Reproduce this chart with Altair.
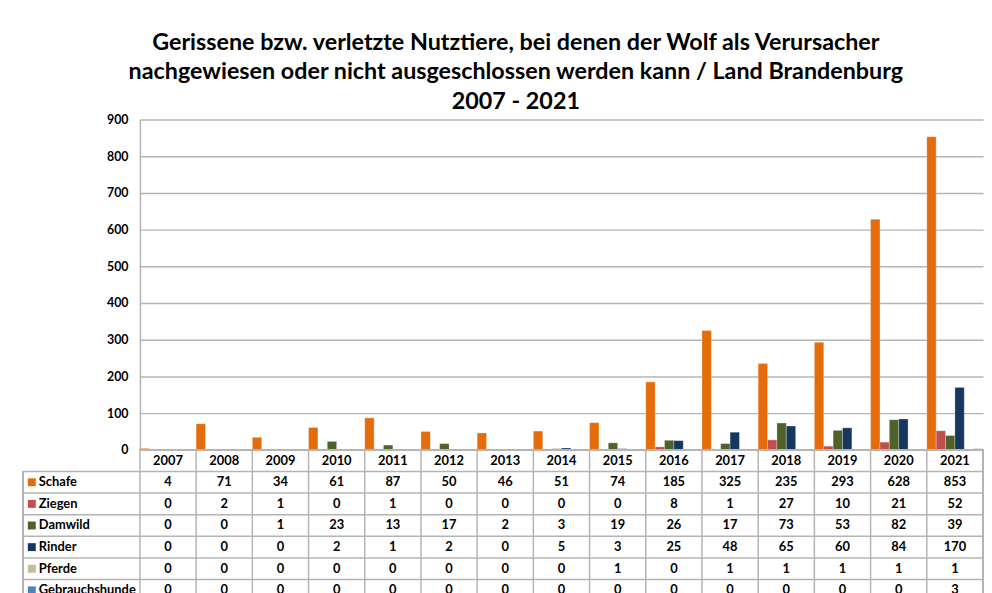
import altair as alt
import pandas as pd

years = [str(y) for y in range(2007, 2022)]
series = ["Schafe", "Ziegen", "Damwild", "Rinder", "Pferde", "Gebrauchshunde"]
schafe = [4, 71, 34, 61, 87, 50, 46, 51, 74, 185, 325, 235, 293, 628, 853]
ziegen = [0, 2, 1, 0, 1, 0, 0, 0, 0, 8, 1, 27, 10, 21, 52]
damwild = [0, 0, 1, 23, 13, 17, 2, 3, 19, 26, 17, 73, 53, 82, 39]
rinder = [0, 0, 0, 2, 1, 2, 0, 5, 3, 25, 48, 65, 60, 84, 170]
pferde = [0, 0, 0, 0, 0, 0, 0, 0, 1, 0, 1, 1, 1, 1, 1]
hunde = [0, 0, 0, 0, 0, 0, 0, 0, 0, 0, 0, 0, 0, 0, 3]
colors = ["#E46C0A", "#C0504D", "#4F6228", "#17375E", "#C4BD97", "#4F81BD"]
y_ticks = [0, 100, 200, 300, 400, 500, 600, 700, 800, 900]
title_lines = [
    "Gerissene bzw. verletzte Nutztiere, bei denen der Wolf als Verursacher",
    "nachgewiesen oder nicht ausgeschlossen werden kann / Land Brandenburg",
    "2007 - 2021",
]

values = [schafe, ziegen, damwild, rinder, pferde, hunde]
records = []
for s, vals in zip(series, values):
    for y, v in zip(years, vals):
        records.append({"year": y, "series": s, "value": v})
df = pd.DataFrame(records)

rows = ["Jahr"] + series
trecs = [{"year": y, "row": "Jahr", "label": y} for y in years]
trecs += [{"year": r["year"], "row": r["series"], "label": str(r["value"])} for r in records]
tdf = pd.DataFrame(trecs)
legdf = pd.DataFrame({"row": series, "series": series})
yeardf = pd.DataFrame({"year": years})

FONT = "Lato"
GRID = "#b4b4b4"
W = 850
H = 333
TH = 152.6
LEFT = -118

xscale = alt.Scale(domain=years, paddingInner=0, paddingOuter=0)
cscale = alt.Scale(domain=series, range=colors)

bars = alt.Chart(df).mark_bar(stroke="white", strokeWidth=0.4, strokeOpacity=0.7).encode(
    x=alt.X("year:N", scale=xscale, axis=None),
    xOffset=alt.XOffset("series:N", scale=alt.Scale(domain=series, paddingInner=0, paddingOuter=0)),
    y=alt.Y(
        "value:Q",
        scale=alt.Scale(domain=[0, 900], nice=False),
        axis=alt.Axis(
            values=y_ticks, grid=True, gridColor=GRID, gridWidth=1.5,
            domainColor=GRID, domainWidth=1.5, ticks=False, labelPadding=12,
            labelFont=FONT, labelFontWeight="bold", labelFontSize=12.5,
            labelColor="black", title=None,
        ),
    ),
    color=alt.Color("series:N", scale=cscale, legend=None),
).properties(width=W, height=H)

rowscale = alt.Scale(domain=rows, paddingInner=0, paddingOuter=0)

ttext = alt.Chart(tdf).mark_text(font=FONT, fontWeight="bold", fontSize=13, color="black").encode(
    x=alt.X("year:N", scale=xscale, axis=None),
    y=alt.Y("row:N", scale=rowscale, axis=None),
    text="label:N",
)

vlines = alt.Chart(yeardf).mark_rule(color=GRID, strokeWidth=1.5).encode(
    x=alt.X("year:N", scale=xscale, bandPosition=0, axis=None),
    y=alt.value(0),
    y2=alt.value(TH),
)
rline = alt.Chart(yeardf).mark_rule(color=GRID, strokeWidth=1.5).encode(
    x=alt.value(W), y=alt.value(0), y2=alt.value(TH)
)
hlines = alt.Chart(legdf).mark_rule(color=GRID, strokeWidth=1.5).encode(
    y=alt.Y("row:N", scale=rowscale, bandPosition=0, axis=None),
    x=alt.value(LEFT),
    x2=alt.value(W),
)
topline = alt.Chart(yeardf).mark_rule(color=GRID, strokeWidth=1.5).encode(
    y=alt.value(0), x=alt.value(0), x2=alt.value(W)
)
lline = alt.Chart(yeardf).mark_rule(color=GRID, strokeWidth=1.5).encode(
    x=alt.value(LEFT), y=alt.value(TH / 7), y2=alt.value(TH)
)
keys = alt.Chart(legdf).mark_square(size=64, opacity=1, filled=True).encode(
    x=alt.value(LEFT + 9),
    y=alt.Y("row:N", scale=rowscale, axis=None),
    color=alt.Color("series:N", scale=cscale, legend=None),
)
klabels = alt.Chart(legdf).mark_text(
    font=FONT, fontWeight="bold", fontSize=13, color="black", align="left"
).encode(
    x=alt.value(LEFT + 16),
    y=alt.Y("row:N", scale=rowscale, axis=None),
    text="series:N",
)

table = alt.layer(vlines, rline, hlines, topline, lline, keys, klabels, ttext).properties(
    width=W, height=TH
)

chart = alt.vconcat(bars, table, spacing=0, bounds="flush").properties(
    title=alt.TitleParams(
        title_lines, font=FONT, fontSize=23.5, fontWeight="bold", color="black",
        anchor="middle", lineHeight=30, offset=0, dx=13,
    ),
    padding={"left": 14, "top": 20, "right": 0, "bottom": 0},
    background="white",
).configure_view(stroke=None)

chart.save("out.html", embed_options={"renderer": "svg", "actions": False})
